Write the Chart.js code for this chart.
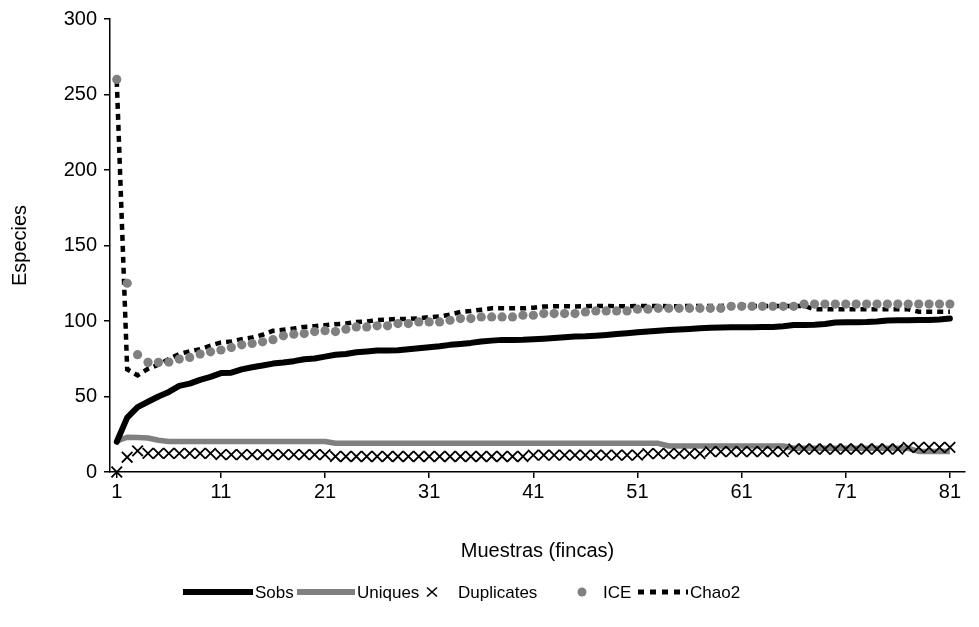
<!DOCTYPE html>
<html>
<head>
<meta charset="utf-8">
<script src="https://cdn.jsdelivr.net/npm/chart.js@4/dist/chart.umd.min.js"></script>
<style>
  html, body { margin: 0; padding: 0; background: #ffffff; }
  #wrap { width: 979px; height: 627px; position: relative; }
</style>
</head>
<body>
<div id="wrap"><canvas id="chart" width="979" height="627"></canvas></div>
<script>
// Samples 1..81 (fincas)
const samples = Array.from({ length: 81 }, (_, i) => i + 1);
const xTickLabels = [1, 11, 21, 31, 41, 51, 61, 71, 81];
const yTickLabels = [0, 50, 100, 150, 200, 250, 300];

const sobs = [
  20, 36, 43, 46.5, 50, 53, 57, 58.5, 61, 63,
  65.5, 65.8, 68, 69.4, 70.5, 71.8, 72.5, 73.4, 74.7, 75.2,
  76.4, 77.6, 78.2, 79.3, 79.8, 80.4, 80.5, 80.6, 81.3, 82,
  82.6, 83.3, 84.2, 84.8, 85.5, 86.4, 87, 87.5, 87.5, 87.6,
  87.9, 88.3, 88.8, 89.2, 89.7, 89.9, 90.3, 90.8, 91.4, 91.9,
  92.5, 93, 93.6, 94, 94.3, 94.7, 95.2, 95.6, 95.7, 95.8,
  95.8, 95.9, 96, 96.1, 96.5, 97.3, 97.4, 97.5, 98, 99,
  99.1, 99.2, 99.3, 99.6, 100.4, 100.5, 100.5, 100.6, 100.7, 101,
  101.6
];

const uniques = [
  20.5, 23, 22.8, 22.5, 21, 20.2, 20.2, 20.2, 20.2, 20.2,
  20.2, 20.2, 20.2, 20.2, 20.2, 20.2, 20.2, 20.2, 20.2, 20.2,
  20.2, 19, 19, 19, 19, 19, 19, 19, 19, 19,
  19, 19, 19, 19, 19, 19, 19, 19, 19, 19,
  19, 19, 19, 19, 19, 19, 19, 19, 19, 19,
  19, 19, 19, 17.2, 17.2, 17.2, 17.2, 17.2, 17.2, 17.2,
  17.2, 17.2, 17.2, 17.2, 17.2, 15.7, 15.7, 15.7, 15.7, 15.7,
  15.7, 15.7, 15.7, 15.7, 15.7, 15.7, 15.7, 13.6, 13.6, 13.6,
  13.6
];

const duplicates = [
  0, 9.8, 14, 12.3, 12.3, 12.3, 12.3, 12.3, 12.3, 12.3,
  11.5, 11.5, 11.5, 11.5, 11.5, 11.5, 11.5, 11.5, 11.5, 11.5,
  11.5, 10.3, 10.3, 10.3, 10.3, 10.3, 10.3, 10.3, 10.3, 10.3,
  10.3, 10.3, 10.3, 10.3, 10.3, 10.3, 10.3, 10.3, 10.3, 10.3,
  11.2, 11.2, 11.2, 11.2, 11.2, 11.2, 11.2, 11.2, 11.2, 11.2,
  11.2, 12.2, 12.2, 12.2, 12.2, 12.2, 12.2, 13.5, 13.5, 13.5,
  13.5, 13.5, 13.5, 13.5, 13.5, 15.2, 15.2, 15.2, 15.2, 15.2,
  15.2, 15.2, 15.2, 15.2, 15.2, 15.2, 16.3, 16.3, 16.3, 16.3,
  16.3
];

const ice = [
  260, 125, 77.7, 72.6, 72.6, 72.8, 74.8, 75.9, 78.1, 79.6,
  80.8, 82.5, 84.2, 85.1, 86.2, 87.6, 90.2, 91.3, 91.7, 93,
  93.6, 93, 94.6, 96.1, 96.1, 96.8, 96.8, 98.3, 98.3, 99.4,
  99.4, 99.4, 100.5, 101.6, 101.6, 102.7, 102.7, 102.7, 102.7, 103.8,
  103.8, 104.9, 104.9, 104.9, 104.9, 106, 106.7, 106.7, 106.7, 106.7,
  107.8, 107.8, 108.4, 108.4, 108.4, 108.4, 108.4, 108.4, 108.4, 109.7,
  109.7, 109.7, 109.7, 109.7, 109.7, 109.7, 111.2, 111.2, 111.2, 111.2,
  111.2, 111.2, 111.2, 111.2, 111.2, 111.2, 111.2, 111.2, 111.2, 111.2,
  111.2
];

const chao2 = [
  259, 68, 64, 68.3, 71.1, 74.8, 78.1, 79.9, 81.4, 83.6,
  85.8, 86.5, 88, 89.1, 90.9, 93.5, 94.2, 95, 96.1, 96.6,
  97.2, 97.9, 98.3, 99.4, 99.6, 100.7, 100.9, 101.4, 101.4, 101.8,
  102.5, 103.1, 104.2, 106, 106.6, 107.5, 108.4, 108.4, 108.4, 108.4,
  108.8, 109.6, 109.8, 109.8, 109.6, 109.8, 110, 110, 109.8, 109.8,
  109.9, 110, 109.9, 109.8, 109.8, 109.9, 109.9, 110, 110, 110.1,
  110.1, 110, 110, 110, 110, 110, 110, 107.8, 107.8, 107.8,
  107.8, 107.8, 107.8, 107.8, 107.8, 107.8, 107.8, 106.2, 106.2, 106.2,
  106.2
];

const FONT = '"Liberation Sans", Arial, Helvetica, sans-serif';
const GREY = '#808080';

const toPoints = (arr) => arr.map((v, i) => ({ x: samples[i], y: v }));

// Legend row drawn under the x axis title
const legendRow = {
  id: 'legendRow',
  afterDraw(chart) {
    const ctx = chart.ctx;
    const y = 592;
    const items = [
      { kind: 'line', color: '#000', width: 6, x0: 183, x1: 253, tx: 255 },
      { kind: 'line', color: GREY, width: 6, x0: 297, x1: 355, tx: 357 },
      { kind: 'cross', color: '#000', cx: 432, tx: 458 },
      { kind: 'dot', color: GREY, cx: 582, tx: 603 },
      { kind: 'dash', color: '#000', width: 5, x0: 638, x1: 688, tx: 690 }
    ];
    ctx.save();
    ctx.font = '17px ' + FONT;
    ctx.textBaseline = 'middle';
    items.forEach((it, i) => {
      const label = chart.data.datasets[i].label;
      ctx.strokeStyle = it.color;
      ctx.fillStyle = it.color;
      if (it.kind === 'line' || it.kind === 'dash') {
        ctx.beginPath();
        ctx.lineWidth = it.width;
        ctx.setLineDash(it.kind === 'dash' ? [6, 6] : []);
        ctx.moveTo(it.x0, y);
        ctx.lineTo(it.x1, y);
        ctx.stroke();
        ctx.setLineDash([]);
      } else if (it.kind === 'cross') {
        ctx.beginPath();
        ctx.lineWidth = 1.6;
        ctx.moveTo(it.cx - 5, y - 4.5); ctx.lineTo(it.cx + 5, y + 4.5);
        ctx.moveTo(it.cx - 5, y + 4.5); ctx.lineTo(it.cx + 5, y - 4.5);
        ctx.stroke();
      } else {
        ctx.beginPath();
        ctx.arc(it.cx, y, 4.5, 0, Math.PI * 2);
        ctx.fill();
      }
      ctx.fillStyle = '#000';
      ctx.fillText(label, it.tx, y + 1);
    });
    ctx.restore();
  }
};

new Chart(document.getElementById('chart'), {
  type: 'line',
  data: {
    datasets: [
      {
        label: 'Sobs', data: toPoints(sobs),
        borderColor: '#000', borderWidth: 6, pointRadius: 0,
        borderCapStyle: 'round', borderJoinStyle: 'round', order: 3
      },
      {
        label: 'Uniques', data: toPoints(uniques),
        borderColor: GREY, borderWidth: 5.5, pointRadius: 0,
        borderJoinStyle: 'round', order: 5
      },
      {
        label: 'Duplicates', data: toPoints(duplicates), showLine: false,
        pointStyle: 'crossRot', pointRadius: 7.5, pointBorderWidth: 1.8,
        pointBorderColor: '#000', borderColor: '#000', order: 4
      },
      {
        label: 'ICE', data: toPoints(ice), showLine: false,
        pointStyle: 'circle', pointRadius: 4.6, pointBorderWidth: 0,
        pointBackgroundColor: GREY, pointBorderColor: GREY, order: 1
      },
      {
        label: 'Chao2', data: toPoints(chao2),
        borderColor: '#000', borderWidth: 4.5, borderDash: [6, 5],
        pointRadius: 0, order: 2
      }
    ]
  },
  options: {
    responsive: false,
    animation: false,
    devicePixelRatio: 1,
    clip: false,
    layout: { padding: { top: 16, right: 14, left: 0, bottom: 0 } },
    plugins: { legend: { display: false }, tooltip: { enabled: false } },
    scales: {
      x: {
        type: 'linear', min: 0.35, max: 82.45,
        afterFit: (s) => { s.height = 155; },
        afterBuildTicks: (s) => { s.ticks = xTickLabels.map(v => ({ value: v })); },
        ticks: { color: '#000', font: { family: FONT, size: 20 }, padding: 2, maxRotation: 0, callback: (v) => String(v) },
        grid: { display: true, drawOnChartArea: false, drawTicks: true, tickLength: 6, color: '#000', lineWidth: 1.5 },
        border: { display: true, color: '#000', width: 1.5 },
        title: { display: true, text: 'Muestras (fincas)', color: '#000', font: { family: FONT, size: 20 }, padding: { top: 0, bottom: 64 } }
      },
      y: {
        min: 0, max: 300,
        afterFit: (s) => { s.width = 110; },
        afterBuildTicks: (s) => { s.ticks = yTickLabels.map(v => ({ value: v })); },
        ticks: { color: '#000', font: { family: FONT, size: 20 }, padding: 7 },
        grid: { display: true, drawOnChartArea: false, drawTicks: true, tickLength: 6, color: '#000', lineWidth: 1.5 },
        border: { display: true, color: '#000', width: 1.5 },
        title: { display: true, text: 'Especies', color: '#000', font: { family: FONT, size: 20 }, padding: { top: 8, bottom: 0 } }
      }
    }
  },
  plugins: [legendRow]
});
</script>
</body>
</html>
